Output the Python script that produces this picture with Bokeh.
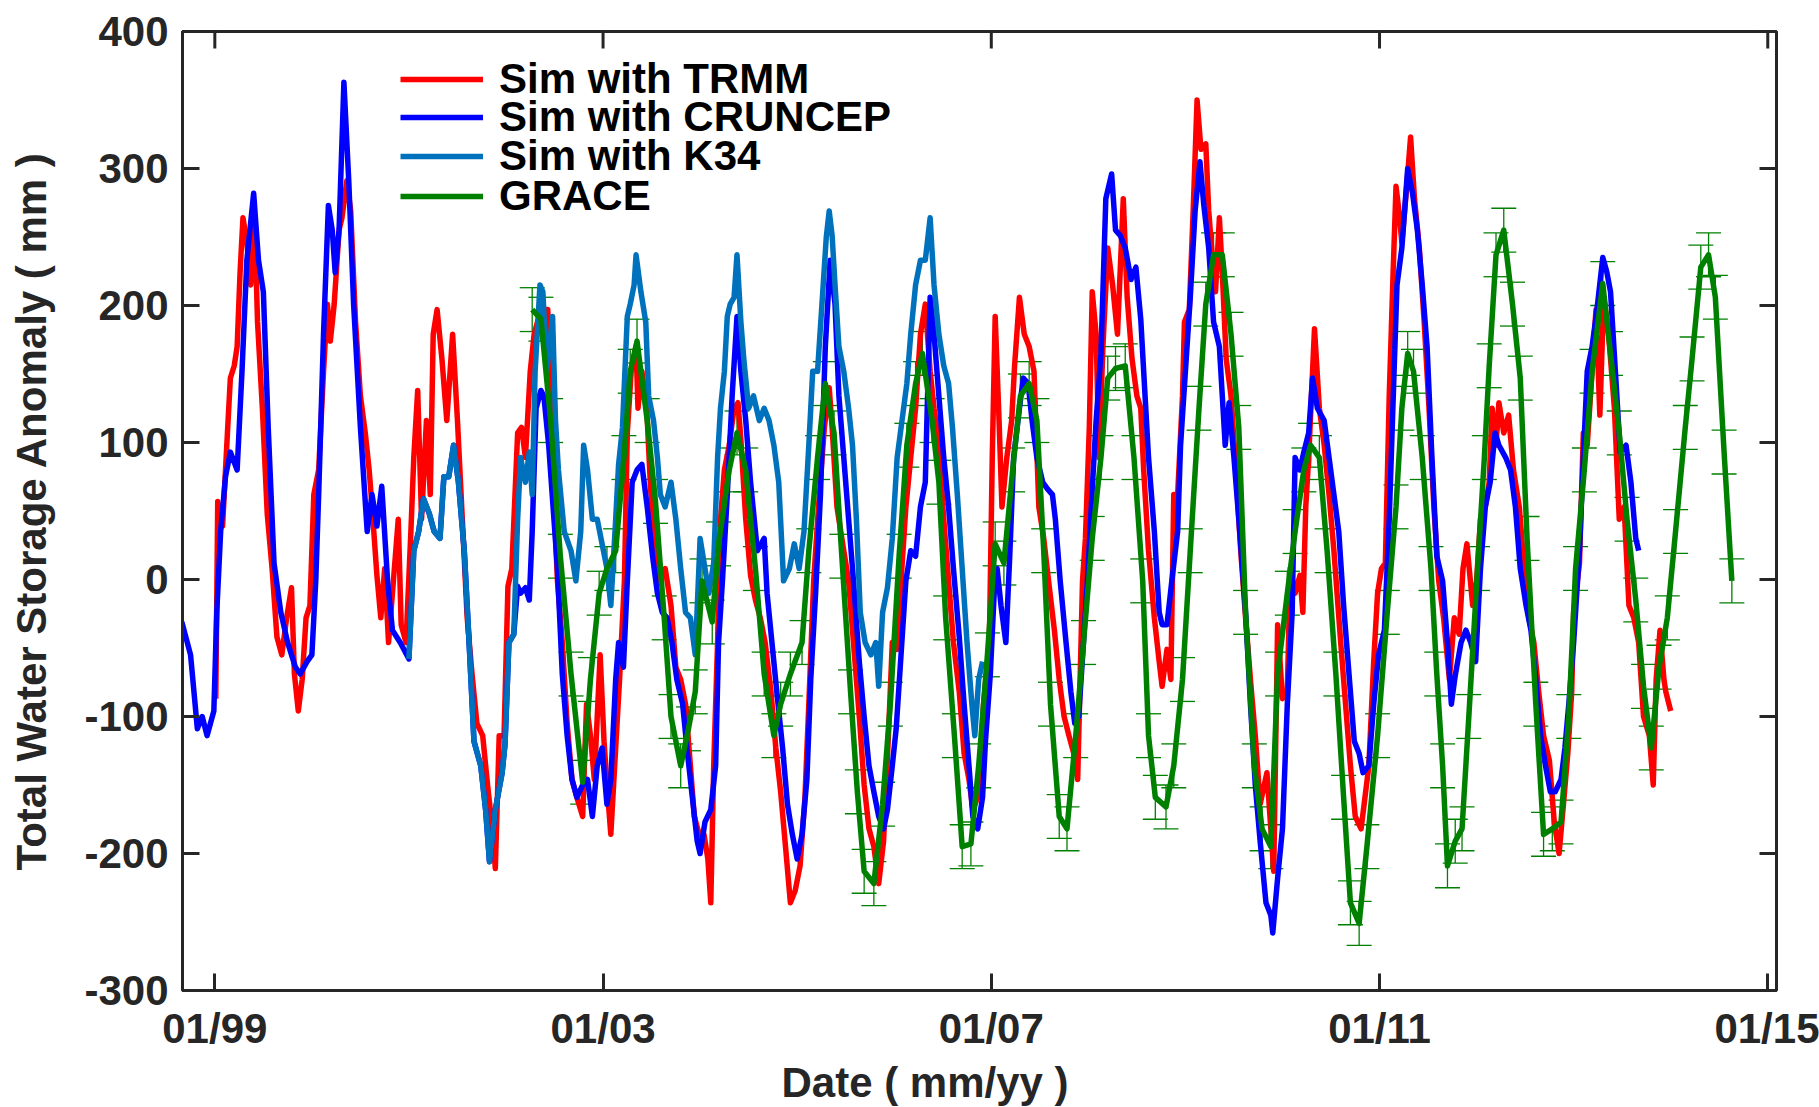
from bokeh.plotting import figure
from bokeh.models import (Range1d, FixedTicker, Legend, LegendItem, Title,
                          Whisker, TeeHead, ColumnDataSource)
from bokeh.embed import file_html
from bokeh.resources import INLINE

# ---------------- data (decimal year, TWS anomaly in mm) ----------------
trmm_year = [1999.01,1999.03,1999.08,1999.13,1999.16,1999.20,1999.23,1999.26,1999.29,1999.33,1999.37,1999.41,1999.44,1999.49,1999.54,1999.59,1999.64,1999.69,1999.74,1999.79,1999.82,1999.86,1999.90,1999.94,1999.98,
             2000.02,2000.07,2000.12,2000.16,2000.19,2000.23,2000.28,2000.31,2000.36,2000.40,2000.45,2000.50,2000.55,2000.59,2000.62,2000.67,2000.71,2000.75,2000.79,2000.84,2000.89,2000.92,2000.97,
             2001.02,2001.05,2001.09,2001.13,2001.18,2001.22,2001.25,2001.29,2001.34,2001.39,2001.45,2001.50,2001.55,2001.60,2001.65,2001.70,2001.76,2001.81,2001.86,2001.89,2001.93,2001.98,
             2002.02,2002.06,2002.12,2002.16,2002.20,2002.25,2002.29,2002.34,2002.39,2002.43,2002.46,2002.49,2002.53,2002.58,2002.63,2002.68,2002.73,2002.79,2002.83,2002.87,2002.91,2002.97,
             2003.01,2003.05,2003.08,2003.13,2003.17,2003.22,2003.25,2003.29,2003.34,2003.36,2003.40,2003.45,2003.49,2003.54,2003.59,2003.64,2003.70,2003.75,2003.80,2003.85,2003.90,2003.94,2003.99,
             2004.04,2004.08,2004.11,2004.14,2004.18,2004.21,2004.25,2004.30,2004.35,2004.39,2004.42,2004.47,2004.52,2004.57,2004.62,2004.67,2004.73,2004.78,2004.83,2004.88,2004.93,2004.98,
             2005.03,2005.08,2005.12,2005.17,2005.22,2005.28,2005.33,2005.36,2005.41,2005.48,2005.53,2005.58,2005.64,2005.69,2005.74,2005.79,2005.84,2005.89,2005.94,2005.98,
             2006.03,2006.07,2006.12,2006.17,2006.22,2006.27,2006.32,2006.37,2006.41,2006.46,2006.51,2006.56,2006.61,2006.67,2006.72,2006.77,2006.81,2006.86,2006.89,2006.92,2006.98,
             2007.01,2007.04,2007.08,2007.11,2007.16,2007.21,2007.24,2007.29,2007.34,2007.39,2007.44,2007.49,2007.54,2007.59,2007.65,2007.70,2007.75,2007.80,2007.85,2007.89,2007.94,2007.97,
             2008.01,2008.04,2008.08,2008.11,2008.15,2008.20,2008.25,2008.30,2008.36,2008.40,2008.45,2008.50,2008.54,2008.57,2008.62,2008.68,2008.73,2008.76,2008.81,2008.85,2008.88,2008.92,2008.97,2008.99,
             2009.04,2009.08,2009.12,2009.16,2009.21,2009.24,2009.28,2009.31,2009.35,2009.38,2009.42,2009.47,2009.52,2009.57,2009.62,2009.67,2009.72,2009.77,2009.84,2009.88,2009.91,2009.95,
             2010.00,2010.05,2010.08,2010.13,2010.18,2010.21,2010.24,2010.27,2010.31,2010.33,2010.38,2010.43,2010.48,2010.53,2010.60,2010.65,2010.70,2010.75,2010.81,2010.85,2010.89,2010.94,2010.98,
             2011.02,2011.06,2011.10,2011.14,2011.17,2011.20,2011.23,2011.27,2011.32,2011.36,2011.41,2011.46,2011.51,2011.56,2011.61,2011.66,2011.72,2011.77,2011.82,2011.86,2011.90,2011.96,
             2012.00,2012.04,2012.09,2012.13,2012.16,2012.20,2012.23,2012.28,2012.33,2012.38,2012.44,2012.49,2012.54,2012.59,2012.64,2012.69,2012.75,2012.80,2012.85,2012.89,2012.94,2012.98,
             2013.00,2013.06,2013.10,2013.14,2013.19,2013.23,2013.27,2013.31,2013.36,2013.42,2013.47,2013.52,2013.57,2013.62,2013.67,2013.72,2013.78,2013.82,2013.85,2013.89,2013.93,2013.95,2014.00]
trmm_tws = [-87,57,39,107,147,156,170,224,264,246,215,264,188,125,48,8,-42,-55,-28,-6,-69,-96,-73,-28,-19,
            62,80,152,201,174,201,255,264,291,269,188,134,107,80,53,3,-28,8,-46,-1,44,-33,-46,
            35,89,138,44,116,62,179,197,161,116,179,116,44,-28,-69,-105,-114,-150,-182,-211,-114,-114,
            -5,8,107,111,89,152,179,192,197,197,143,66,-1,-46,-105,-146,-159,-173,-91,-114,-146,-55,
            -118,-159,-186,-123,-73,-1,107,152,170,125,152,125,66,21,-1,8,-19,-64,-73,-91,-136,-173,-186,
            -186,-204,-236,-136,-46,44,80,98,125,129,102,44,3,-15,-28,-46,-82,-123,-155,-195,-236,-227,
            -209,-159,-91,-1,53,111,140,111,53,21,-1,-46,-100,-150,-182,-195,-222,-191,-114,-46,
            -51,-1,53,89,125,179,201,152,125,98,44,-1,-46,-82,-127,-146,-168,-159,-136,-91,-46,
            89,192,116,53,89,116,156,206,179,170,152,53,30,-1,-37,-73,-100,-114,-127,-146,-1,30,
            111,210,179,89,170,242,215,179,278,206,161,134,125,80,21,-28,-60,-78,-51,-73,62,62,134,188,
            197,269,350,314,318,269,233,210,264,224,161,134,80,21,-28,-73,-114,-164,-141,-182,-213,-33,
            -87,-82,8,-10,3,-24,53,89,152,183,125,98,62,21,-46,-91,-136,-173,-182,-159,-136,-60,-10,
            8,12,134,224,287,269,246,278,323,278,242,188,125,53,-1,-28,-73,-28,-40,8,26,-19,
            -1,44,53,71,125,98,129,107,120,80,53,8,-28,-46,-82,-114,-132,-177,-200,-168,-127,-82,
            -24,12,107,98,152,197,120,206,179,125,44,53,-19,-28,-46,-100,-114,-150,-73,-37,-73,-82,-96]

cruncep_year = [1998.66,1998.75,1998.82,1998.87,1998.92,1998.99,1999.02,1999.06,1999.11,1999.16,1999.23,1999.28,1999.33,1999.40,1999.45,1999.50,1999.55,1999.61,1999.68,1999.75,1999.83,1999.88,1999.95,
                2000.00,2000.04,2000.07,2000.12,2000.17,2000.21,2000.24,2000.28,2000.33,2000.38,2000.43,2000.50,2000.57,2000.62,2000.67,2000.72,2000.78,2000.83,2000.91,
                2001.00,2001.05,2001.10,2001.15,2001.21,2001.26,2001.32,2001.36,2001.41,2001.46,2001.51,2001.57,2001.62,2001.67,2001.74,2001.79,2001.83,2001.89,2001.96,2001.99,
                2002.03,2002.08,2002.12,2002.15,2002.20,2002.24,2002.27,2002.31,2002.36,2002.39,2002.44,2002.49,2002.53,2002.58,2002.63,2002.68,2002.73,2002.79,2002.84,2002.89,2002.94,2002.99,
                2003.04,2003.08,2003.13,2003.16,2003.21,2003.25,2003.30,2003.35,2003.40,2003.455,2003.51,2003.56,2003.61,2003.66,2003.71,2003.76,2003.82,2003.87,2003.92,2003.97,
                2004.00,2004.05,2004.11,2004.16,2004.19,2004.23,2004.28,2004.33,2004.38,2004.42,2004.47,2004.52,2004.59,2004.66,2004.69,2004.74,2004.79,2004.85,2004.90,2004.95,
                2005.00,2005.05,2005.10,2005.14,2005.19,2005.24,2005.29,2005.34,2005.39,2005.43,2005.48,2005.53,2005.58,2005.64,2005.69,2005.74,2005.79,2005.84,2005.89,2005.93,2005.98,
                2006.02,2006.07,2006.12,2006.17,2006.22,2006.27,2006.32,2006.37,2006.41,2006.46,2006.51,2006.56,2006.61,2006.67,2006.72,2006.77,2006.81,2006.86,2006.91,2006.94,2006.99,
                2007.03,2007.06,2007.10,2007.15,2007.19,2007.23,2007.29,2007.33,2007.38,2007.42,2007.47,2007.53,2007.58,2007.63,2007.66,2007.71,2007.77,2007.82,2007.86,2007.90,2007.95,2007.99,
                2008.04,2008.08,2008.13,2008.18,2008.24,2008.28,2008.33,2008.38,2008.44,2008.49,2008.54,2008.57,2008.62,2008.68,2008.73,2008.76,2008.81,2008.86,2008.92,2008.95,
                2009.00,2009.05,2009.10,2009.15,2009.19,2009.24,2009.29,2009.35,2009.38,2009.41,2009.45,2009.50,2009.55,2009.62,2009.67,2009.72,2009.77,2009.83,2009.88,2009.90,2009.95,
                2010.00,2010.05,2010.10,2010.13,2010.18,2010.22,2010.27,2010.31,2010.36,2010.43,2010.48,2010.53,2010.58,2010.63,2010.68,2010.74,2010.79,2010.83,2010.89,2010.94,2010.99,
                2011.05,2011.10,2011.15,2011.18,2011.23,2011.29,2011.34,2011.39,2011.44,2011.49,2011.54,2011.59,2011.65,2011.70,2011.74,2011.78,2011.84,2011.89,2011.94,2011.99,
                2012.04,2012.09,2012.14,2012.19,2012.23,2012.30,2012.35,2012.40,2012.45,2012.51,2012.56,2012.61,2012.66,2012.71,2012.76,2012.81,2012.87,2012.91,2012.95,
                2013.00,2013.06,2013.10,2013.14,2013.19,2013.24,2013.30,2013.34,2013.38,2013.43,2013.48,2013.54,2013.59,2013.64,2013.67]
cruncep_tws = [-31,-55,-109,-100,-114,-96,-24,35,75,93,80,152,233,282,233,210,111,12,-24,-46,-64,-69,-60,
               -55,-1,62,179,273,255,224,255,363,291,201,111,35,62,39,68,-1,-37,-46,
               -58,21,35,59,48,35,30,75,75,98,71,21,-46,-118,-136,-168,-206,-168,-141,-120,
               -46,-40,-5,-10,-6,-15,35,125,138,134,98,48,8,-69,-114,-146,-159,-150,-146,-173,-136,-123,
               -164,-146,-73,-46,-64,-1,71,80,84,53,17,-10,-24,-28,-46,-73,-91,-127,-159,-191,
               -200,-177,-168,-136,-46,-1,62,134,192,152,116,71,21,30,-10,-46,-82,-123,-164,-186,
               -204,-186,-146,-73,-10,62,170,233,201,134,89,44,-1,-60,-100,-136,-155,-173,-182,-168,-136,
               -109,-55,-1,21,17,53,71,206,179,134,89,53,8,-42,-91,-136,-173,-182,-159,-118,-69,
               -10,8,-19,-46,17,89,125,147,143,116,89,71,66,62,44,-1,-46,-82,-105,-100,-46,-1,
               66,116,165,278,296,255,251,242,219,228,190,152,89,35,-24,-33,-33,-1,35,98,
               152,206,269,305,273,242,188,170,134,98,129,89,44,-24,-91,-150,-191,-236,-245,-258,-218,
               -182,-91,-24,89,80,93,107,147,125,116,89,62,35,-19,-64,-118,-127,-141,-136,-91,-55,
               -37,44,152,215,242,300,282,255,215,170,89,17,-1,-46,-91,-70,-46,-37,-46,-60,
               8,53,71,107,98,89,80,53,8,-19,-37,-73,-114,-136,-155,-155,-146,-123,-91,
               -46,21,89,152,170,197,235,225,210,152,93,98,71,30,21]

k34_year = [2001.00,2001.05,2001.10,2001.15,2001.21,2001.26,2001.32,2001.36,2001.41,2001.46,2001.51,2001.57,2001.62,2001.67,2001.74,2001.79,2001.83,2001.89,2001.96,2001.99,
            2002.03,2002.08,2002.12,2002.15,2002.20,2002.24,2002.27,2002.30,2002.35,2002.38,2002.42,2002.48,2002.51,2002.54,2002.60,2002.67,2002.72,2002.77,2002.80,2002.84,2002.89,2002.94,2002.99,
            2003.04,2003.08,2003.13,2003.16,2003.20,2003.25,2003.28,2003.32,2003.34,2003.39,2003.44,2003.47,2003.52,2003.56,2003.59,2003.64,2003.70,2003.75,2003.80,2003.85,2003.90,2003.95,
            2004.00,2004.05,2004.09,2004.14,2004.18,2004.21,2004.25,2004.28,2004.31,2004.35,2004.38,2004.42,2004.45,2004.50,2004.55,2004.61,2004.66,2004.71,2004.76,2004.81,2004.86,2004.92,2004.97,
            2005.02,2005.07,2005.12,2005.16,2005.21,2005.26,2005.30,2005.33,2005.36,2005.39,2005.43,2005.48,2005.53,2005.57,2005.61,2005.65,2005.70,2005.76,2005.81,2005.84,2005.88,2005.93,2005.98,
            2006.03,2006.08,2006.13,2006.17,2006.22,2006.27,2006.32,2006.37,2006.41,2006.46,2006.51,2006.56,2006.60,2006.65,2006.70,2006.75,2006.80,2006.83,2006.87,2006.91]
k34_tws = [-58,21,35,59,48,35,30,75,75,98,71,21,-46,-118,-136,-168,-206,-168,-141,-120,
           -46,-40,44,89,71,93,62,152,215,210,152,192,116,80,35,21,-1,35,98,80,44,44,26,
           8,-19,44,84,111,192,201,215,237,210,188,134,116,89,62,53,71,44,8,-24,-28,-55,
           30,8,-10,12,89,125,152,192,201,206,237,188,161,125,134,116,125,116,98,71,-1,8,26,
           8,35,98,152,152,206,250,269,251,215,170,152,125,98,44,-24,-46,-55,-46,-78,-24,-6,30,
           89,116,143,179,215,233,233,264,215,179,156,143,111,62,8,-46,-91,-114,-73,-60]

grace_year = [2002.27,2002.36,2002.46,2002.56,2002.67,2002.79,2002.87,2002.96,2003.04,2003.13,2003.215,2003.28,2003.35,2003.455,2003.54,2003.63,2003.70,2003.80,2003.88,2003.95,
              2004.02,2004.125,2004.19,2004.30,2004.38,2004.47,2004.57,2004.66,2004.76,2004.83,2004.93,2005.05,2005.12,2005.21,2005.29,2005.38,2005.46,2005.55,2005.62,2005.69,2005.79,2005.88,2005.96,
              2006.05,2006.13,2006.22,2006.29,2006.39,2006.46,2006.53,2006.62,2006.70,2006.79,2006.87,2006.96,2007.04,2007.13,2007.22,2007.30,2007.39,2007.47,2007.54,2007.61,2007.70,2007.78,2007.87,2007.95,
              2008.04,2008.13,2008.20,2008.28,2008.38,2008.47,2008.56,2008.62,2008.69,2008.80,2008.88,2008.97,2009.05,2009.14,2009.21,2009.29,2009.38,2009.47,2009.55,2009.62,2009.71,2009.79,2009.88,2009.95,
              2010.05,2010.13,2010.22,2010.29,2010.38,2010.46,2010.55,2010.63,2010.70,2010.79,2010.87,2010.98,2011.08,2011.17,2011.23,2011.29,2011.35,2011.44,2011.53,2011.59,2011.65,2011.70,2011.78,2011.85,2011.92,
              2012.01,2012.08,2012.13,2012.20,2012.28,2012.37,2012.45,2012.52,2012.61,2012.69,2012.78,2012.87,2012.95,2013.02,2013.11,2013.19,2013.30,2013.38,2013.47,2013.55,2013.64,2013.72,2013.80,2013.88,2013.965,
              2014.05,2014.15,2014.22,2014.31,2014.39,2014.46,2014.55,2014.63]
grace_tws = [197,190,116,17,-69,-148,-73,-10,8,21,89,152,174,116,57,-28,-100,-136,-109,-82,
             -1,-31,26,80,107,80,8,-69,-114,-91,-69,-46,21,89,143,107,17,-82,-155,-213,-222,-164,-91,
             17,98,143,165,116,71,-28,-114,-195,-193,-136,-55,26,12,80,134,143,116,21,-91,-173,-182,-114,-46,
             30,89,147,154,156,89,-1,-114,-159,-166,-136,-73,21,125,201,237,237,179,111,-24,-136,-182,-195,-69,
             -10,35,80,98,89,21,-69,-159,-236,-251,-195,-114,-24,53,125,165,152,89,8,-69,-136,-209,-191,-182,-100,
             8,89,156,237,255,201,147,30,-91,-186,-182,-177,-100,8,80,152,216,165,107,44,-15,-78,-123,-64,-28,
             35,111,161,228,237,206,93,-1]
grace_err = [16] * len(grace_tws)

x_start, x_end = 1998.667, 2015.09
y_start, y_end = -300, 400
x_tick_years = [1999, 2003, 2007, 2011, 2015]
x_tick_labels = ["01/99", "01/03", "01/07", "01/11", "01/15"]
y_ticks = [-300, -200, -100, 0, 100, 200, 300, 400]
y_tick_labels = ["-300", "-200", "-100", "0", "100", "200", "300", "400"]
series_names = ["Sim with TRMM", "Sim with CRUNCEP", "Sim with K34", "GRACE"]

# ---------------- figure ----------------
FONT = "Liberation Sans"
INK = "#262626"
FS = "42px"

p = figure(width=1819, height=1107, output_backend="svg", toolbar_location=None,
           x_range=Range1d(x_start, x_end), y_range=Range1d(y_start, y_end),
           min_border_left=182, min_border_right=43, min_border_top=31, min_border_bottom=115,
           background_fill_color="white", border_fill_color="white")
p.xgrid.visible = False
p.ygrid.visible = False
p.outline_line_color = INK
p.outline_line_width = 3

for ax in (p.xaxis[0], p.yaxis[0]):
    ax.axis_line_color = INK
    ax.axis_line_width = 3
    ax.major_tick_line_color = INK
    ax.major_tick_line_width = 3
    ax.major_tick_in = 17
    ax.major_tick_out = 0
    ax.minor_tick_line_color = None
    ax.major_label_text_font = FONT
    ax.major_label_text_font_style = "bold"
    ax.major_label_text_color = INK
    ax.major_label_text_font_size = FS
    ax.axis_label_text_font = FONT
    ax.axis_label_text_font_style = "bold"
    ax.axis_label_text_color = INK
    ax.axis_label_text_font_size = FS

xa = p.xaxis[0]
xa.ticker = FixedTicker(ticks=x_tick_years)
xa.major_label_overrides = {t: l for t, l in zip(x_tick_years, x_tick_labels)}
xa.major_label_standoff = 14

ya = p.yaxis[0]
ya.ticker = FixedTicker(ticks=y_ticks)
ya.major_label_overrides = {t: l for t, l in zip(y_ticks, y_tick_labels)}
ya.major_label_standoff = 14
ya.axis_label = "Total Water Storage Anomaly ( mm )"
ya.axis_label_standoff = 26

# x-axis title sits a little left of centre in the original
p.add_layout(Title(text="Date ( mm/yy )", align="left", offset=599, standoff=4,
                   text_font=FONT, text_font_style="bold", text_font_size=FS,
                   text_color=INK), "below")

# mirrored inward tick marks on top and right edges (outer half clipped by the frame)
p.rect(x=x_tick_years, y=[y_end] * len(x_tick_years), width=3, height=34,
       width_units="screen", height_units="screen", fill_color=INK, line_color=None)
p.rect(x=[x_end] * len(y_ticks), y=y_ticks, width=34, height=3,
       width_units="screen", height_units="screen", fill_color=INK, line_color=None)

# ---------------- series ----------------
LW = 5.5
r_trmm = p.line(trmm_year, trmm_tws, line_color="#FF0000", line_width=LW, line_join="round")
r_cru = p.line(cruncep_year, cruncep_tws, line_color="#0000FF", line_width=LW, line_join="round")
r_k34 = p.line(k34_year, k34_tws, line_color="#0072BD", line_width=LW, line_join="round")

gsrc = ColumnDataSource(dict(x=grace_year, y=grace_tws,
                             lo=[v - e for v, e in zip(grace_tws, grace_err)],
                             hi=[v + e for v, e in zip(grace_tws, grace_err)]))
wh = Whisker(source=gsrc, base="x", upper="hi", lower="lo", dimension="height",
             line_color="#008000", line_width=1.3,
             upper_head=TeeHead(size=25, line_color="#008000", line_width=1.3),
             lower_head=TeeHead(size=25, line_color="#008000", line_width=1.3))
p.add_layout(wh)
r_grace = p.line("x", "y", source=gsrc, line_color="#008000", line_width=LW, line_join="round")

# legend: one single-entry legend per row so the tight row pitch is exact
ITEM_H = 56
row_bottoms = [883, 845, 806, 766]
for name, rend, yb in zip(series_names, [r_trmm, r_cru, r_k34, r_grace], row_bottoms):
    lg = Legend(items=[LegendItem(label=name, renderers=[rend])],
                location=(218, yb), orientation="vertical",
                border_line_color=None, background_fill_alpha=0,
                label_text_font=FONT, label_text_font_style="bold",
                label_text_font_size=FS, label_text_color="black",
                glyph_width=83, glyph_height=ITEM_H, label_height=ITEM_H,
                label_standoff=16, spacing=0, padding=0, margin=0)
    p.add_layout(lg)

open("out.html", "w").write(file_html(p, INLINE))
